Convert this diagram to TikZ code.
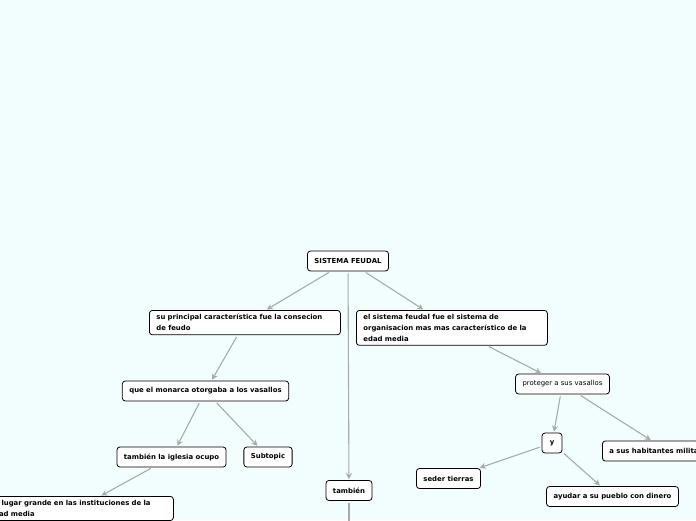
\documentclass[tikz,border=0pt]{standalone}
\usepackage{fontspec}
\setmainfont{DejaVu Sans}
\usepackage{tikz}
\usetikzlibrary{positioning,arrows.meta}
\definecolor{bgcol}{HTML}{F2FEFD}
\definecolor{linkcol}{HTML}{A8ABAA}

\begin{document}
\begin{tikzpicture}[x=1pt,y=-1pt,
  topic/.style={draw=black,line width=0.8pt,rounded corners=3pt,fill=white,font=\fontsize{6.9}{10.8}\selectfont\bfseries,minimum height=20pt,inner xsep=7pt,inner ysep=4pt},
  wide/.style={topic,text width=177pt,align=left,anchor=north west},
  link/.style={draw=linkcol,line width=1.1pt,shorten <=2pt,shorten >=1pt,-{Stealth[length=6pt,width=6pt]}}]
\clip (0,0) rectangle (696,520);
\fill[bgcol] (0,0) rectangle (696,520);
% central topic
\node[topic] (root) at (348,261) {SISTEMA FEUDAL};
% left branch
\node[wide] (carac) at (149,310) {su principal característica fue la consecion\\de feudo};
\node[topic] (monarca) at (205.5,391) {que el monarca otorgaba a los vasallos};
\node[topic] (iglesia) at (171.5,457) {también la iglesia ocupo};
\node[topic] (sub) at (268,457) {Subtopic};
\node[wide] (lugar) at (-18,496) {un lugar grande en las instituciones de la\\edad media};
% middle branch
\node[topic] (tamb) at (349,490.5) {también};
\coordinate (tambend) at (349,530);
% right branch
\node[wide] (sistema) at (356,310) {el sistema feudal fue el sistema de\\organisacion mas mas característico de la\\edad media};
\node[topic,font=\fontsize{6.9}{10.8}\selectfont] (proteger) at (562.5,384) {proteger a sus vasallos};
\node[topic,minimum width=20pt,inner xsep=0pt] (y) at (552,443) {y};
\node[topic,anchor=west] (milit) at (602,451) {a sus habitantes militarmente};
\node[topic] (seder) at (448.5,478.5) {seder tierras};
\node[topic] (ayudar) at (612.5,496.5) {ayudar a su pueblo con dinero};
% connectors
\draw[link] (root) -- (carac);
\draw[link] (root) -- (sistema);
\draw[link] (root) -- (tamb);
\draw[link] (carac) -- (monarca);
\draw[link] (sistema) -- (proteger);
\draw[link] (monarca) -- (iglesia);
\draw[link] (monarca) -- (sub);
\draw[link] (proteger) -- (y);
\draw[link] (proteger) -- (milit);
\draw[link] (y) -- (seder);
\draw[link] (y) -- (ayudar);
\draw[link] (iglesia) -- (lugar);
\draw[link,-] (tamb) -- (tambend);
\end{tikzpicture}
\end{document}
